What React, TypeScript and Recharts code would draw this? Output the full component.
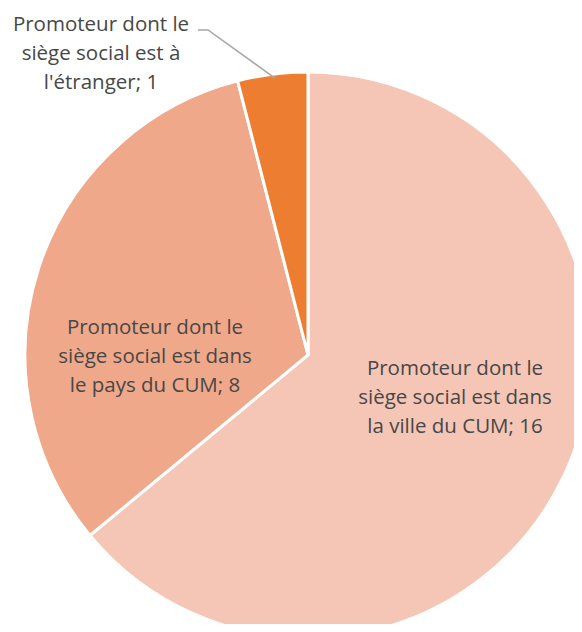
import React from 'react';
import { PieChart, Pie, Cell } from 'recharts';

const categories = [
  'Promoteur dont le siège social est dans la ville du CUM',
  'Promoteur dont le siège social est dans le pays du CUM',
  "Promoteur dont le siège social est à l'étranger",
];
const values = [16, 8, 1];
const labelLines = [
  ['Promoteur dont le', 'siège social est dans', 'la ville du CUM; 16'],
  ['Promoteur dont le', 'siège social est dans', 'le pays du CUM; 8'],
  ['Promoteur dont le', 'siège social est à', "l'étranger; 1"],
];
const colors = ['#F5C6B6', '#F0A88A', '#ED7D31'];

const data = categories.map((name, i) => ({ name, value: values[i] }));

// label centre offsets from the pie centre (Excel puts them by hand)
const labelOffset = [
  [147, 41],
  [-153, 0],
  [-207, -303],
];

const renderLabel = (props: any) => {
  const { cx, cy, index, outerRadius } = props;
  const [dx, dy] = labelOffset[index];
  const x = cx + dx;
  const y = cy + dy;
  const lines = labelLines[index];
  const lh = 29;
  let leader = null;
  if (index === 2) {
    const a = (props.midAngle * Math.PI) / 180;
    const ex = cx + outerRadius * Math.cos(a) * 0.99 + 2;
    const ey = cy - outerRadius * Math.sin(a) * 0.99 + 1;
    leader = (
      <polyline
        points={`${ex},${ey} ${cx - 100},${cy - 325} ${cx - 110},${cy - 325}`}
        fill="none"
        stroke="#A6A6A6"
        strokeWidth={1.5}
      />
    );
  }
  return (
    <g>
      {leader}
      <text
        x={x}
        y={y}
        textAnchor="middle"
        fill="#474747"
        fontSize={20.5}
        fontFamily="'Open Sans', sans-serif"
      >
        {lines.map((l, i) => (
          <tspan key={i} x={x} y={y + (i - 1) * lh} dominantBaseline="central">
            {l}
          </tspan>
        ))}
      </text>
    </g>
  );
};

export default function App() {
  return (
    <div style={{ width: 582, height: 632, margin: -8, overflow: 'hidden' }}>
      <PieChart width={582} height={632} margin={{ top: 0, right: 0, bottom: 0, left: 0 }}>
        <Pie
          data={data}
          dataKey="value"
          nameKey="name"
          cx={308}
          cy={355}
          outerRadius={283}
          startAngle={90}
          endAngle={-270}
          stroke="#ffffff"
          strokeWidth={3}
          label={renderLabel}
          labelLine={false}
          isAnimationActive={false}
        >
          {data.map((d, i) => (
            <Cell key={d.name} fill={colors[i]} />
          ))}
        </Pie>
      </PieChart>
    </div>
  );
}
